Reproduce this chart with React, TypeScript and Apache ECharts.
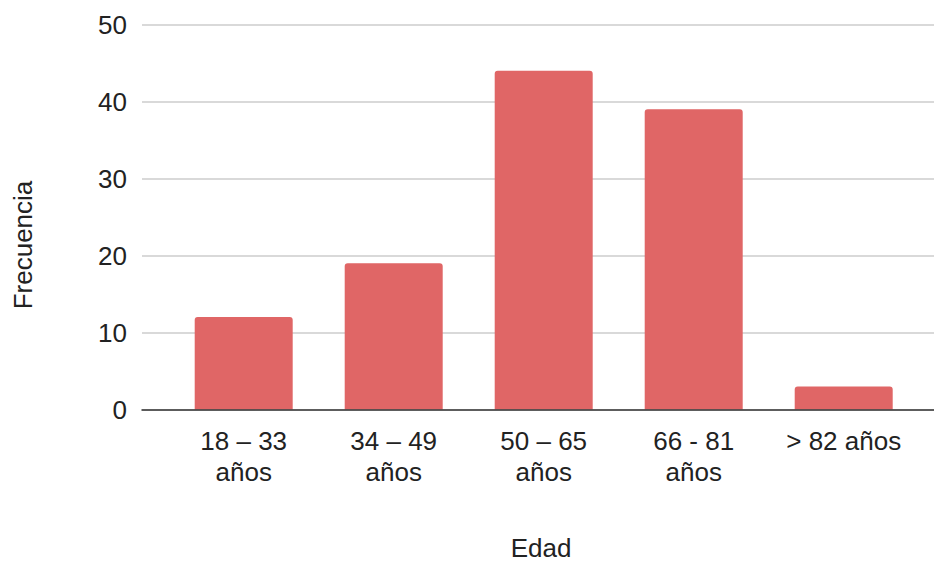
import React, { useEffect, useRef } from "react";
import * as echarts from "echarts";

const categories = ["18 – 33\naños", "34 – 49\naños", "50 – 65\naños", "66 - 81\naños", "> 82 años"];
const frecuencia = [12, 19, 44, 39, 3];
const yTicks = { min: 0, max: 50, interval: 10 };

const FONT = "Liberation Sans, Arial, sans-serif";
const FS = 26;

export default function App() {
  const ref = useRef<HTMLDivElement>(null);

  useEffect(() => {
    if (!ref.current) return;
    const chart = echarts.init(ref.current, null, { renderer: "svg" });
    chart.setOption({
      animation: false,
      backgroundColor: "#ffffff",
      grid: [
        { left: 142, right: 0, top: 24.5, bottom: 152.5 },
        { left: 168.7, right: 15.3, top: 24.5, bottom: 152.5 },
      ],
      xAxis: [
        {
          gridIndex: 0,
          type: "value",
          min: 0,
          max: 1,
          axisLine: { show: true, lineStyle: { color: "#333333", width: 1.5 } },
          axisTick: { show: false },
          axisLabel: { show: false },
          splitLine: { show: false },
          z: 5,
        },
        {
          gridIndex: 1,
          type: "category",
          data: categories,
          axisLine: { show: false },
          axisTick: { show: false },
          axisLabel: {
            margin: 16,
            fontSize: FS,
            lineHeight: 31,
            color: "#222222",
            fontFamily: FONT,
            interval: 0,
          },
        },
      ],
      yAxis: [
        {
          gridIndex: 0,
          type: "value",
          min: yTicks.min,
          max: yTicks.max,
          interval: yTicks.interval,
          axisLine: { show: false },
          axisTick: { show: false },
          axisLabel: { margin: 15, fontSize: FS, color: "#222222", fontFamily: FONT },
          splitLine: { lineStyle: { color: "#cccccc", width: 1.5 } },
        },
        {
          gridIndex: 1,
          type: "value",
          min: yTicks.min,
          max: yTicks.max,
          interval: yTicks.interval,
          show: false,
          splitLine: { show: false },
        },
      ],
      series: [
        {
          type: "bar",
          xAxisIndex: 1,
          yAxisIndex: 1,
          data: frecuencia,
          barWidth: 98,
          itemStyle: { color: "#e06666", borderRadius: [3, 3, 0, 0] },
          z: 2,
        },
      ],
      graphic: [
        {
          type: "text",
          x: 541,
          y: 548,
          style: {
            text: "Edad",
            fontSize: FS,
            fontFamily: FONT,
            fill: "#222222",
            textAlign: "center",
            textVerticalAlign: "middle",
          },
        },
        {
          type: "text",
          x: 23,
          y: 245,
          rotation: Math.PI / 2,
          style: {
            text: "Frecuencia",
            fontSize: FS,
            fontFamily: FONT,
            fill: "#222222",
            textAlign: "center",
            textVerticalAlign: "middle",
          },
        },
      ],
    });
    return () => chart.dispose();
  }, []);

  return <div ref={ref} style={{ width: 934, height: 562, position: "absolute", left: 0, top: 0 }} />;
}
